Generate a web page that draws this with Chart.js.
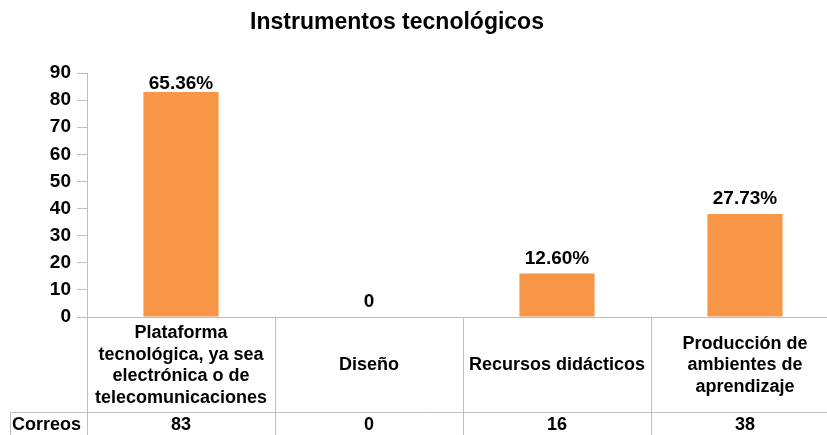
<!DOCTYPE html>
<html lang="es">
<head>
  <meta charset="UTF-8">
  <title>Instrumentos tecnológicos</title>
  <script src="https://cdn.jsdelivr.net/npm/chart.js"></script>
  <style>
    html, body { margin: 0; padding: 0; background: #ffffff; overflow: hidden; }
    #wrap { position: relative; width: 845px; height: 445px; }
  </style>
</head>
<body>
  <div id="wrap"><canvas id="chart"></canvas></div>

  <script>
    // chart data
    const chartTitle = 'Instrumentos tecnológicos';
    const categories = [
      ['Plataforma', 'tecnológica, ya sea', 'electrónica o de', 'telecomunicaciones'],
      ['Diseño'],
      ['Recursos didácticos'],
      ['Producción de', 'ambientes de', 'aprendizaje']
    ];
    const seriesName = 'Correos';
    const correos = [83, 0, 16, 38];
    const barLabels = ['65.36%', '0', '12.60%', '27.73%'];

    const FONT = '"Liberation Sans", Arial, sans-serif';
    const gridColor = '#bfbfbf';

    // draws title, value labels and the data table under the axis
    const tablePlugin = {
      id: 'tablePlugin',
      afterDraw(chart) {
        const { ctx, chartArea } = chart;
        const x = chart.scales.x;
        const meta = chart.getDatasetMeta(0);
        ctx.save();

        // title
        ctx.fillStyle = '#000';
        ctx.font = 'bold 23px ' + FONT;
        ctx.textAlign = 'center';
        ctx.textBaseline = 'middle';
        ctx.fillText(chartTitle, 397, 23);

        // labels over the bars (kept inside the plot area like Excel does)
        ctx.font = 'bold 19px ' + FONT;
        ctx.textBaseline = 'alphabetic';
        meta.data.forEach((bar, i) => {
          const ly = Math.max(bar.y - 10, chartArea.top + 16);
          ctx.fillText(barLabels[i], bar.x, ly);
        });

        // table grid
        const top = chartArea.bottom;
        const rowTop = 412;
        const bottom = 445;
        const step = (chartArea.right - chartArea.left) / categories.length;
        ctx.strokeStyle = gridColor;
        ctx.lineWidth = 1;
        ctx.beginPath();
        for (let i = 0; i <= categories.length; i++) {
          const gx = Math.round(chartArea.left + step * i) + 0.5;
          ctx.moveTo(gx, top);
          ctx.lineTo(gx, bottom);
        }
        ctx.moveTo(10.5, rowTop);
        ctx.lineTo(10.5, bottom);
        ctx.moveTo(10, rowTop + 0.5);
        ctx.lineTo(chartArea.right, rowTop + 0.5);
        ctx.stroke();

        // category labels
        ctx.fillStyle = '#000';
        ctx.font = 'bold 18px ' + FONT;
        ctx.textBaseline = 'middle';
        const lh = 21.5;
        const midY = (top + rowTop) / 2 + 1;
        categories.forEach((lines, i) => {
          const cx = x.getPixelForValue(i);
          const y0 = midY - (lines.length - 1) * lh / 2;
          lines.forEach((t, j) => ctx.fillText(t, cx, y0 + j * lh));
        });

        // series row
        ctx.textAlign = 'left';
        ctx.fillText(seriesName, 12, 425);
        ctx.textAlign = 'center';
        correos.forEach((v, i) => {
          ctx.fillText(String(v), x.getPixelForValue(i), 425);
        });
        ctx.restore();
      }
    };

    new Chart(document.getElementById('chart'), {
      type: 'bar',
      data: {
        labels: categories.map(c => c.join(' ')),
        datasets: [{
          label: seriesName,
          data: correos,
          backgroundColor: '#F79646',
          borderWidth: 0,
          categoryPercentage: 1,
          barPercentage: 0.4
        }]
      },
      options: {
        responsive: true,
        maintainAspectRatio: false,
        animation: false,
        layout: { padding: { left: 0, right: 6, top: 73, bottom: 0 } },
        plugins: {
          legend: { display: false },
          title: { display: false },
          tooltip: { enabled: false }
        },
        scales: {
          x: {
            grid: { display: false },
            border: { color: gridColor },
            ticks: { display: false },
            afterFit(scale) { scale.height = 445 - 317; }
          },
          y: {
            min: 0,
            max: 90,
            ticks: {
              stepSize: 10,
              color: '#000',
              padding: 6,
              font: { family: FONT, size: 19, weight: 'bold' }
            },
            grid: { drawOnChartArea: false, color: gridColor, tickLength: 10 },
            border: { color: gridColor },
            afterFit(scale) { scale.width = 87; }
          }
        }
      },
      plugins: [tablePlugin]
    });
  </script>
</body>
</html>
